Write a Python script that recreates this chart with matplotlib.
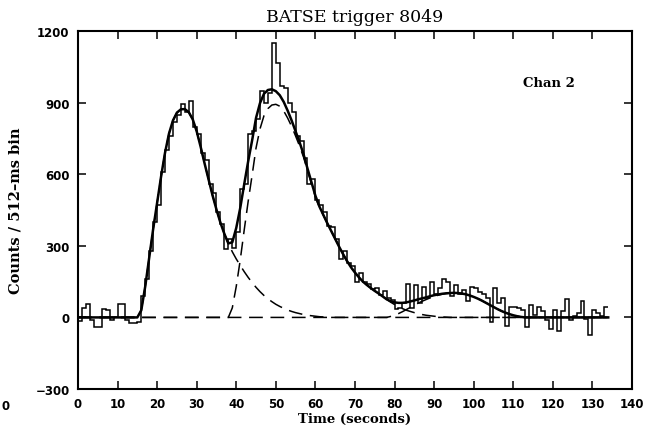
import numpy as np
import matplotlib
matplotlib.use("Agg")
import matplotlib.pyplot as plt

# Channel 2 count rate, 1-s bins starting at t = 0 s (counts per 512-ms bin)
bin_start = 0
counts = [
    -15, 40, 55, -10, -40, -40, 35, 30, -10, 0,
    55, 55, -10, -25, -25, -20, 90, 160, 280, 400,
    470, 610, 700, 760, 820, 850, 895, 860, 905, 800,
    770, 690, 660, 560, 520, 440, 390, 285, 330, 290,
    360, 540, 560, 770, 780, 830, 950, 900, 940, 1150,
    1065, 970, 960, 900, 860, 760, 740, 670, 560, 580,
    490, 470, 440, 385, 380, 330, 245, 280, 230, 215,
    150, 185, 150, 140, 120, 125, 95, 110, 80, 75,
    35, 40, 60, 141, 40, 134, 60, 127, 80, 150,
    100, 125, 160, 150, 90, 134, 100, 115, 70, 127,
    125, 105, 100, 80, -20, 125, 60, 80, -35, 45,
    45, 40, 30, -40, 50, 10, 45, 25, -10, -50,
    30, -55, 25, 78, -10, 5, 20, 70, -5, -75,
    30, 20, 5, 45,
]

# Fitted pulses, sampled every second from their onset time
pulse1_onset = 15
pulse1 = [
    0, 30, 130, 250, 370, 480, 590, 690, 770, 825,
    858, 872, 873, 860, 830, 780, 715, 645, 578, 512,
    452, 397, 350, 310, 275, 245, 218, 192, 168, 146,
    126, 108, 92, 78, 66, 55, 46, 38, 31, 25,
    20, 16, 12, 9, 7, 5, 3, 2, 1, 0,
]
pulse2_onset = 38
pulse2 = [
    0, 40, 130, 240, 365, 485, 595, 710, 790, 845,
    875, 890, 893, 885, 865, 835, 800, 760, 718, 672,
    615, 560, 505, 462, 428, 394, 362, 330, 296, 265,
    236, 210, 188, 168, 150, 136, 123, 111, 100, 88,
    76, 64, 54, 45, 37, 30, 25, 20, 16, 12,
    9, 7, 5, 3, 2, 1, 0,
]
pulse3_onset = 78
pulse3 = [
    0, 4, 9, 16, 24, 33, 42, 51, 60, 68,
    75, 82, 88, 93, 97, 100, 102, 103, 102, 100,
    97, 92, 86, 79, 71, 62, 53, 44, 35, 27,
    20, 14, 9, 5, 2, 0,
]
model_end = 134

x_ticks = list(range(0, 141, 10))
y_ticks = [-300, 0, 300, 600, 900, 1200]

plt.rcParams["font.family"] = ["DejaVu Serif"]

fig = plt.figure(figsize=(6.53, 4.39), dpi=100)
ax = fig.add_axes([0.1194, 0.1116, 0.8484, 0.8154])

# Data histogram
edges = np.arange(bin_start, bin_start + len(counts) + 1)
ax.stairs(counts, edges, color="black", lw=1.1, baseline=None)

# Model components on a common 1-s grid
t = np.arange(0, model_end + 1)
components = []
for onset, vals in ((pulse1_onset, pulse1), (pulse2_onset, pulse2), (pulse3_onset, pulse3)):
    comp = np.zeros_like(t, dtype=float)
    comp[onset:onset + len(vals)] = vals
    components.append(comp)
total = np.sum(components, axis=0)

for comp in components:
    ax.plot(t, comp, color="black", lw=1.1, dashes=(9, 5))
ax.plot(t, total, color="black", lw=1.8)

ax.set_xlim(0, 140)
ax.set_ylim(-300, 1200)
ax.set_xticks(x_ticks)
ax.set_yticks(y_ticks)
ax.set_xticklabels([str(v) for v in x_ticks], fontfamily="DejaVu Sans",
                   fontweight="bold", fontsize=8.5)
ax.set_yticklabels([f"{v:d}".replace("-", "\u2212") for v in y_ticks],
                   fontfamily="DejaVu Sans", fontweight="bold", fontsize=8.5)
ax.tick_params(direction="in", length=6, width=1.1, top=True, right=True,
               labeltop=False, labelright=False, pad=6)
for side in ax.spines.values():
    side.set_linewidth(1.5)

ax.set_title("BATSE trigger 8049", fontsize=12.5, pad=7)
ax.set_xlabel("Time (seconds)", fontsize=9.5, fontweight="bold", labelpad=1)
ax.set_ylabel("Counts / 512\u2013ms bin", fontsize=10.5, fontweight="bold", labelpad=9)
ax.text(0.85, 0.855, "Chan 2", transform=ax.transAxes, fontsize=9.5,
        fontweight="bold", ha="center", va="center")

# Edge of the neighbouring panel's axis label
fig.text(0.002, 0.075, "0", fontfamily="DejaVu Sans", fontweight="bold",
         fontsize=8.5, ha="left", va="center")

fig.savefig("out.png", dpi=100)
